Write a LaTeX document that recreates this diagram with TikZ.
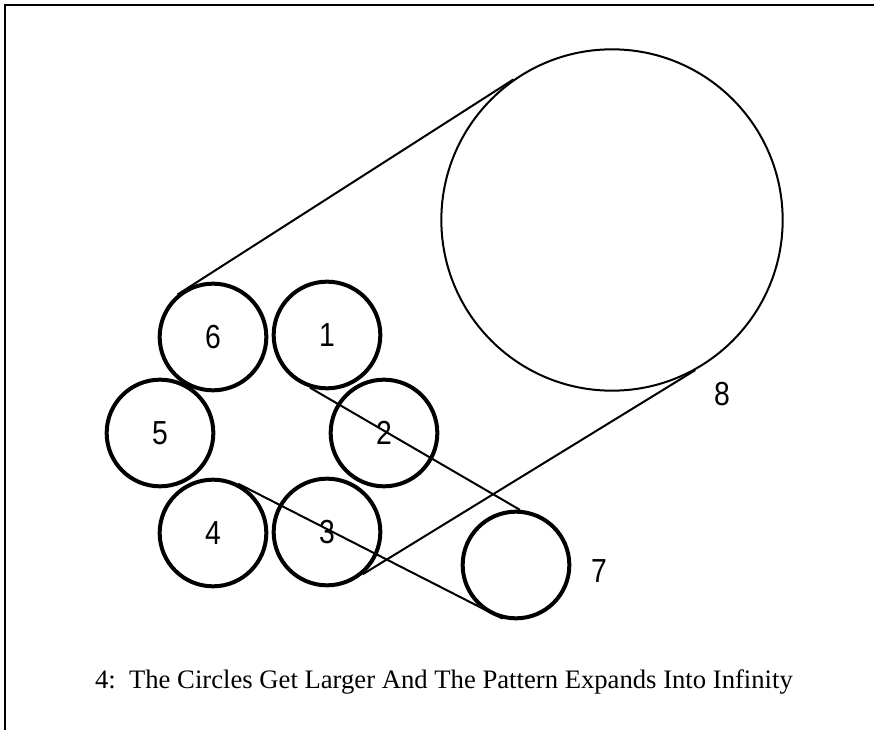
\documentclass[tikz,border=0pt]{standalone}
\usepackage{fontspec}
\setmainfont{Liberation Serif}
\newfontfamily\ziffern{Liberation Sans}
\newcommand\schmal[1]{\scalebox{0.85}[1]{#1}}
\usetikzlibrary{shapes,arrows}

\begin{document}
\begin{tikzpicture}[ring/.style={draw, circle, line width=3pt, minimum size=80pt, inner sep=0pt, font=\ziffern\fontsize{25}{26}\selectfont},
				zahl/.style={inner sep=0pt, font=\ziffern\fontsize{25}{26}\selectfont},
				x=0.75pt, y=-0.75pt,
				line width=1.5pt]
				%Bildbereich
				\useasboundingbox (0,0) rectangle (874,730);
				% Rahmen zeichnen
				\draw (5,730) -- (5,5) -- (874,5);
				% kleine Kreise
				\foreach \n/\x/\y in {1/327/335, 2/384/433, 3/327/532, 4/213/533, 5/160/433, 6/213/337}
					\node[ring] (c\n) at (\x,\y) {\schmal{\n}};
				\node[ring] (c7) at (516,565) {};
				% grosser Kreis
				\node[draw, circle, minimum size=256pt, inner sep=0pt] (c8) at (612,220) {};
				% Beschriftung
				\node[zahl] (l7) at (599,571) {\schmal{7}};
				\node[zahl] (l8) at (722,394) {\schmal{8}};
				% Verbindungslinien
				\draw (c6.130) -- (c8.125);
				\draw (c1.252) -- (c7.86);
				\draw (c4.63) -- (c7.256);
				\draw (c3.-50) -- (c8.-61);
				% Bildunterschrift
				\node[anchor=base west, inner sep=0pt, font=\fontsize{20}{24}\selectfont] (titel) at (94,688) {4:\ \ The Circles Get Larger And The Pattern Expands Into Infinity};
			\end{tikzpicture}
\end{document}
